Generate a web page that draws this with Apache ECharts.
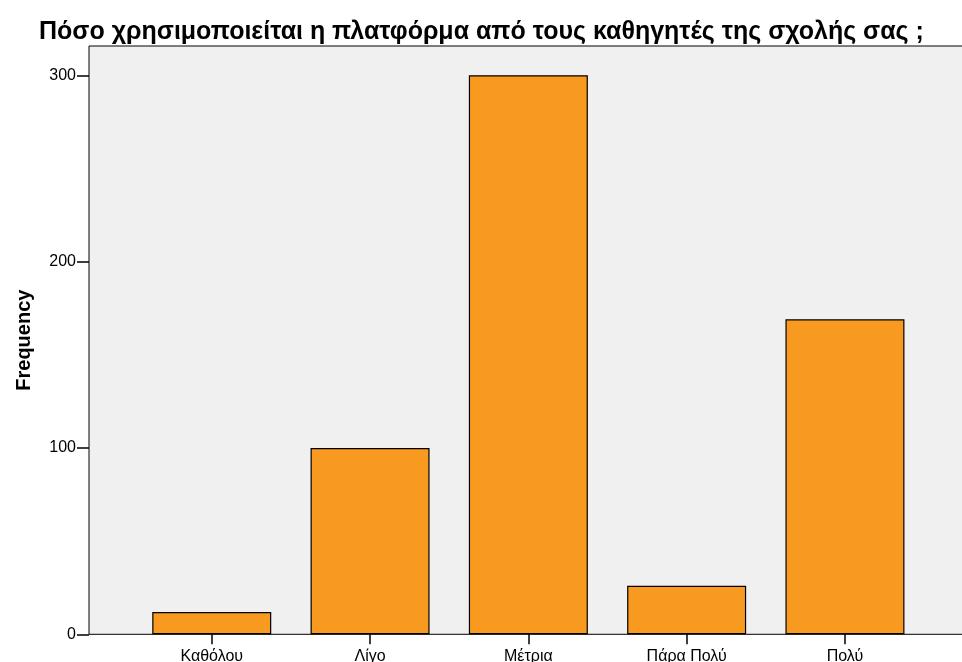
<!DOCTYPE html>
<html><head><meta charset="utf-8">
<script src="https://cdn.jsdelivr.net/npm/echarts@6/dist/echarts.min.js"></script>
<style>html,body{margin:0;padding:0;background:#fff}#c{width:962px;height:662px}</style>
</head><body><div id="c"></div>
<script>
const categories = ['Καθόλου', 'Λίγο', 'Μέτρια', 'Πάρα Πολύ', 'Πολύ'];
const frequency = [12, 100, 300, 26, 169];
const yTicks = [0, 100, 200, 300];

const chart = echarts.init(document.getElementById('c'), null, {renderer: 'canvas'});
const yMax = 315.7;
const font = '"Liberation Sans", Arial, sans-serif';
chart.setOption({
  animation: false,
  title: {
    text: 'Πόσο χρησιμοποιείται η πλατφόρμα από τους καθηγητές της σχολής σας ;',
    left: 34, top: 15,
    textStyle: {fontFamily: font, fontWeight: 'bold', fontSize: 25, color: '#000'}
  },
  grid: [
    {left: 89, right: -2, top: 46, bottom: 27.7, outerBoundsMode: 'none', containLabel: false,
     show: true, backgroundColor: '#f0f0f0', borderColor: '#000', borderWidth: 1, z: 0},
    {left: 132.6, right: 37.9, top: 46, bottom: 27.7, outerBoundsMode: 'none', containLabel: false}
  ],
  xAxis: [
    {gridIndex: 0, type: 'value', show: false, min: 0, max: 1},
    {gridIndex: 1, type: 'category', data: categories,
     axisLine: {show: false},
     axisTick: {show: true, alignWithLabel: true, length: 10, lineStyle: {color: '#000', width: 1.5}},
     axisLabel: {color: '#000', fontFamily: font, fontSize: 16, margin: 14}}
  ],
  yAxis: [
    {gridIndex: 0, type: 'value', min: 0, max: yMax, interval: 100,
     name: 'Frequency', nameLocation: 'middle', nameGap: 55,
     nameTextStyle: {fontFamily: font, fontWeight: 'bold', fontSize: 20, color: '#000'},
     axisLine: {show: false}, splitLine: {show: false},
     axisTick: {show: true, length: 12, customValues: yTicks, lineStyle: {color: '#000', width: 1.5}},
     axisLabel: {color: '#000', fontFamily: font, fontSize: 16, margin: 13, customValues: yTicks}},
    {gridIndex: 1, type: 'value', min: 0, max: yMax, show: false}
  ],
  series: [{
    type: 'bar', xAxisIndex: 1, yAxisIndex: 1, data: frequency, barWidth: 119,
    itemStyle: {color: '#f89a1f', borderColor: '#000', borderWidth: 1.2}
  }]
});
</script></body></html>
